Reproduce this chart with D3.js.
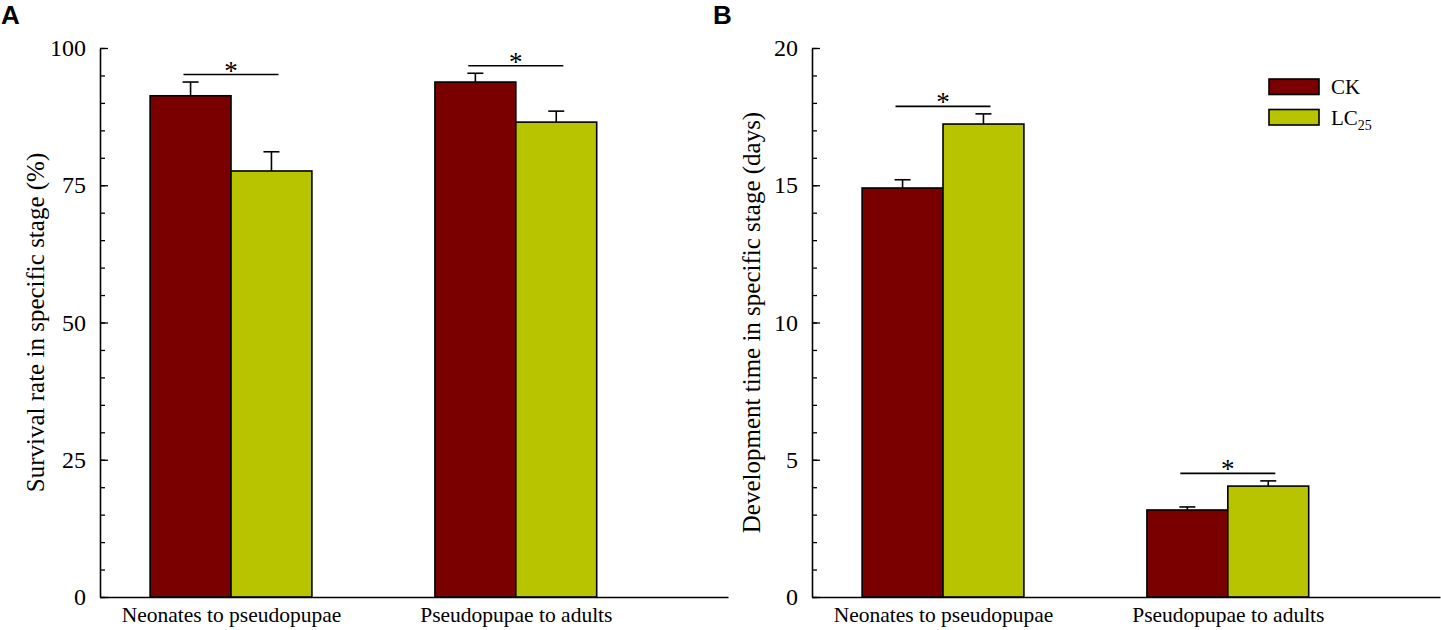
<!DOCTYPE html>
<html>
<head>
<meta charset="utf-8">
<script src="https://cdn.jsdelivr.net/npm/d3@7"></script>
<style>
  body { margin: 0; background: #fff; }
  svg text { font-family: "Liberation Serif", "Times New Roman", serif; fill: #000; }
</style>
</head>
<body>
<div id="chart"></div>
<script>
// categories and series
var stages = ["Neonates to pseudopupae", "Pseudopupae to adults"];
var groups = ["CK", "LC25"];

// panel A: survival rate (%)
var survivalCK = [91.3, 93.8];
var survivalCKErr = [2.5, 1.6];
var survivalLC = [77.6, 86.5];
var survivalLCErr = [3.5, 2.0];
var survivalSig = ["*", "*"];
var survivalTicks = [0, 25, 50, 75, 100];

// panel B: development time (days)
var devCK = [14.9, 3.17];
var devCKErr = [0.3, 0.11];
var devLC = [17.23, 4.04];
var devLCErr = [0.37, 0.19];
var devSig = ["*", "*"];
var devTicks = [0, 5, 10, 15, 20];

var ckColor = "#7a0000";
var lcColor = "#b9c400";
var serif = "'Liberation Serif', 'Times New Roman', serif";

var W = 1441, H = 630;
var plotTop = 48, plotBottom = 597, plotW = 628;

var svg = d3.select("#chart")
  .append("svg")
    .attr("width", W)
    .attr("height", H);

function drawPanel(opt) {
  var g = svg.append("g")
    .attr("transform", "translate(" + opt.left + ",0)");

  var x = d3.scaleLinear().domain([-0.46, 1.745]).range([0, plotW]);
  var y = d3.scaleLinear().domain([0, opt.max]).range([plotBottom, plotTop]);
  var bw = x(0.284) - x(0);

  // minor ticks
  g.append("g")
    .call(d3.axisLeft(y).ticks(opt.minor).tickSize(-5).tickSizeOuter(0).tickFormat(""))
    .call(function(a) { a.select(".domain").remove(); })
    .selectAll("line").attr("stroke-width", 1.3);

  // major ticks + axis line
  var ya = g.append("g")
    .call(d3.axisLeft(y).tickValues(opt.ticks).tickSize(-8).tickSizeOuter(0).tickPadding(14))
    .attr("font-family", serif)
    .attr("font-size", 24);
  ya.select(".domain").attr("stroke-width", 1.6);
  ya.selectAll("line").attr("stroke-width", 1.3);
  ya.selectAll("text").style("font-family", serif).style("font-size", "24px");

  // x axis
  var xa = g.append("g")
    .attr("transform", "translate(0," + plotBottom + ")")
    .call(d3.axisBottom(x).tickValues([0, 1]).tickSize(0).tickSizeOuter(0).tickPadding(10)
      .tickFormat(function(d) { return stages[d]; }))
    .attr("font-family", serif)
    .attr("font-size", 22);
  xa.select(".domain").attr("stroke-width", 1.6);
  xa.selectAll("text").style("font-family", serif).style("font-size", "21.5px");

  var rows = stages.map(function(s, i) {
    return [
      {i: i, k: 0, v: opt.ck[i], e: opt.ckErr[i], c: ckColor},
      {i: i, k: 1, v: opt.lc[i], e: opt.lcErr[i], c: lcColor}
    ];
  });
  var flat = d3.merge(rows);

  // error bars (drawn first so bars sit on top)
  var eb = g.selectAll(".err").data(flat).enter().append("g").attr("class", "err")
    .attr("stroke", "#000").attr("stroke-width", 1.6);
  eb.append("line")
    .attr("x1", function(d) { return x(d.i) + (d.k - 0.5) * bw; })
    .attr("x2", function(d) { return x(d.i) + (d.k - 0.5) * bw; })
    .attr("y1", function(d) { return y(d.v); })
    .attr("y2", function(d) { return y(d.v + d.e); });
  eb.append("line")
    .attr("x1", function(d) { return x(d.i) + (d.k - 0.5) * bw - 8; })
    .attr("x2", function(d) { return x(d.i) + (d.k - 0.5) * bw + 8; })
    .attr("y1", function(d) { return y(d.v + d.e); })
    .attr("y2", function(d) { return y(d.v + d.e); });

  g.selectAll(".bar").data(flat).enter().append("rect")
    .attr("class", "bar")
    .attr("x", function(d) { return x(d.i) + (d.k - 1) * bw; })
    .attr("y", function(d) { return y(d.v); })
    .attr("width", bw)
    .attr("height", function(d) { return y(0) - y(d.v); })
    .attr("fill", function(d) { return d.c; })
    .attr("stroke", "#000")
    .attr("stroke-width", 1.6);

  // significance lines
  rows.forEach(function(r, i) {
    var ly = y(d3.max(r, function(d) { return d.v + d.e; })) - 7.5;
    g.append("line")
      .attr("x1", x(i) - 47.5).attr("x2", x(i) + 47.5)
      .attr("y1", ly).attr("y2", ly)
      .attr("stroke", "#000").attr("stroke-width", 1.6);
    g.append("text")
      .attr("x", x(i))
      .attr("y", ly + 5)
      .attr("text-anchor", "middle")
      .style("font-family", serif)
      .style("font-size", "27px")
      .text(opt.sig[i]);
  });

  // y title
  g.append("text")
    .attr("transform", "translate(" + (opt.titleX - opt.left) + "," + ((plotTop + plotBottom) / 2) + ") rotate(-90)")
    .attr("text-anchor", "middle")
    .style("font-family", serif)
    .style("font-size", "25px")
    .text(opt.title);

  // panel letter
  svg.append("text")
    .attr("x", opt.letterX)
    .attr("y", 24)
    .style("font-family", "'Liberation Sans', Arial, sans-serif")
    .style("font-weight", "bold")
    .style("font-size", "26px")
    .text(opt.letter);

  return {x: x, y: y, g: g};
}

drawPanel({
  left: 100, max: 100, ticks: survivalTicks, minor: 20,
  ck: survivalCK, ckErr: survivalCKErr, lc: survivalLC, lcErr: survivalLCErr,
  sig: survivalSig, title: "Survival rate in specific stage (%)",
  titleX: 44, letter: "A", letterX: 1
});

drawPanel({
  left: 812, max: 20, ticks: devTicks, minor: 20,
  ck: devCK, ckErr: devCKErr, lc: devLC, lcErr: devLCErr,
  sig: devSig, title: "Development time in specific stage (days)",
  titleX: 760, letter: "B", letterX: 713
});

// legend
var legend = svg.append("g").attr("transform", "translate(1269,79)");
var items = legend.selectAll(".item").data(groups).enter().append("g")
  .attr("transform", function(d, i) { return "translate(0," + (i * 30.5) + ")"; });
items.append("rect")
  .attr("width", 50).attr("height", 15.5)
  .attr("fill", function(d, i) { return i === 0 ? ckColor : lcColor; })
  .attr("stroke", "#000").attr("stroke-width", 1.6);
var lt = items.append("text")
  .attr("x", 62).attr("y", 15)
  .style("font-family", serif)
  .style("font-size", "21px");
lt.each(function(d) {
  var t = d3.select(this);
  if (d === "LC25") {
    t.append("tspan").text("LC");
    t.append("tspan").attr("dy", 5).style("font-size", "14px").text("25");
  } else {
    t.text(d);
  }
});
</script>
</body>
</html>
